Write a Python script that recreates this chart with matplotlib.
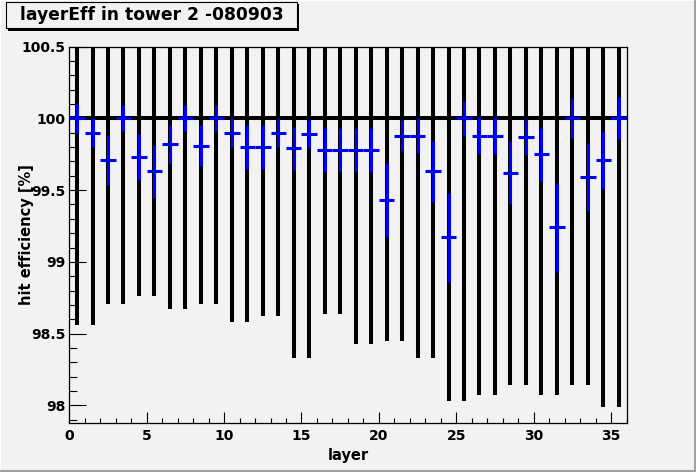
import matplotlib
matplotlib.use("Agg")
import matplotlib.pyplot as plt
from matplotlib.patches import Rectangle
from matplotlib.ticker import MultipleLocator, FuncFormatter
import numpy as np

# ---- data ----
layers = np.arange(36) + 0.5
ref_value = [100.0] * 36
ref_low = [98.56, 98.56, 98.71, 98.71, 98.76, 98.76, 98.67, 98.67, 98.71, 98.71,
           98.58, 98.58, 98.62, 98.62, 98.33, 98.33, 98.64, 98.64, 98.43, 98.43,
           98.45, 98.45, 98.33, 98.33, 98.03, 98.03, 98.07, 98.07, 98.14, 98.14,
           98.07, 98.07, 98.14, 98.14, 97.99, 97.99]
eff = [100.0, 99.90, 99.71, 100.0, 99.73, 99.63, 99.82, 100.0, 99.81, 100.0,
       99.90, 99.80, 99.80, 99.90, 99.79, 99.89, 99.78, 99.78, 99.78, 99.78,
       99.43, 99.88, 99.88, 99.63, 99.17, 100.0, 99.88, 99.88, 99.62, 99.87,
       99.75, 99.24, 100.0, 99.59, 99.71, 100.0]
eff_err = [0.10, 0.10, 0.175, 0.09, 0.16, 0.185, 0.135, 0.09, 0.14, 0.09,
           0.10, 0.15, 0.15, 0.10, 0.15, 0.10, 0.155, 0.155, 0.155, 0.155,
           0.26, 0.11, 0.12, 0.21, 0.31, 0.12, 0.13, 0.13, 0.22, 0.125,
           0.185, 0.31, 0.14, 0.235, 0.20, 0.145]
title = "layerEff in tower 2 -080903"
xlabel = "layer"
ylabel = "hit efficiency [%]"

BG = "#f2f2f2"
FONT = "DejaVu Sans"

W, H = 696, 472
fig = plt.figure(figsize=(W / 100, H / 100), dpi=100, facecolor=BG)

def px_rect(x0, y0, x1, y1, **kw):
    # pixel coords from top-left
    r = Rectangle((x0 / W, 1 - y1 / H), (x1 - x0) / W, (y1 - y0) / H,
                  transform=fig.transFigure, **kw)
    fig.patches.append(r)

# canvas border
px_rect(0, 0, 696, 1, facecolor="white", edgecolor="none", zorder=0)
px_rect(0, 0, 1, 472, facecolor="white", edgecolor="none", zorder=0)
px_rect(694, 0, 696, 472, facecolor="#a0a0a0", edgecolor="none", zorder=0)
px_rect(0, 470, 696, 472, facecolor="#a0a0a0", edgecolor="none", zorder=0)

L, R, T, B = 69.3, 626.5, 46.5, 423.0
ax = fig.add_axes([L / W, 1 - B / H, (R - L) / W, (B - T) / H])
ax.set_facecolor(BG)

# reference series (black) at 100 with large errors
ref_err = [v - lo for v, lo in zip(ref_value, ref_low)]
ax.errorbar(layers, ref_value, yerr=ref_err, xerr=0.5, fmt="none",
            ecolor="black", elinewidth=2.9, capsize=0, zorder=2)
# measured efficiency (blue)
ax.errorbar(layers, eff, yerr=eff_err, xerr=0.5, fmt="none",
            ecolor="#0000ff", elinewidth=2.2, capsize=0, zorder=3)

ax.set_xlim(0, 36)
ax.set_ylim(97.878, 100.5)

ax.xaxis.set_major_locator(MultipleLocator(5))
ax.xaxis.set_minor_locator(MultipleLocator(1))
ax.yaxis.set_major_locator(MultipleLocator(0.5))
ax.yaxis.set_minor_locator(MultipleLocator(0.1))
ax.yaxis.set_major_formatter(FuncFormatter(lambda v, p: f"{v:g}"))

ax.tick_params(axis="both", which="both", direction="in", top=False, right=False,
               width=0.8, color="black")
ax.tick_params(axis="y", which="major", length=12.2, pad=3)
ax.tick_params(axis="y", which="minor", length=5.8)
ax.tick_params(axis="x", which="major", length=7.9, pad=4.5)
ax.tick_params(axis="x", which="minor", length=3.6)
for lab in ax.get_xticklabels() + ax.get_yticklabels():
    lab.set_fontfamily(FONT)
    lab.set_fontweight("bold")
    lab.set_fontsize(10)

for s in ax.spines.values():
    s.set_linewidth(0.9)
    s.set_color("black")

ax.set_xlabel(xlabel, fontfamily=FONT, fontweight="bold", fontsize=10.5)
ax.xaxis.set_label_coords(0.5, -0.067)
ax.set_ylabel(ylabel, fontfamily=FONT, fontweight="bold", fontsize=10.5)
ax.yaxis.label.set_va("center")
ax.yaxis.set_label_coords(-0.077, 0.5)

# title box with shadow
px_rect(8, 4, 299, 31, facecolor="black", edgecolor="none", zorder=5)
px_rect(6, 2, 297, 28, facecolor=BG, edgecolor="black", linewidth=0.8, zorder=6)
fig.text(20 / W, 1 - 15.5 / H, title, fontfamily=FONT, fontweight="bold",
         fontsize=12.3, ha="left", va="center", zorder=7)

fig.savefig("out.png", dpi=100, facecolor=BG)
